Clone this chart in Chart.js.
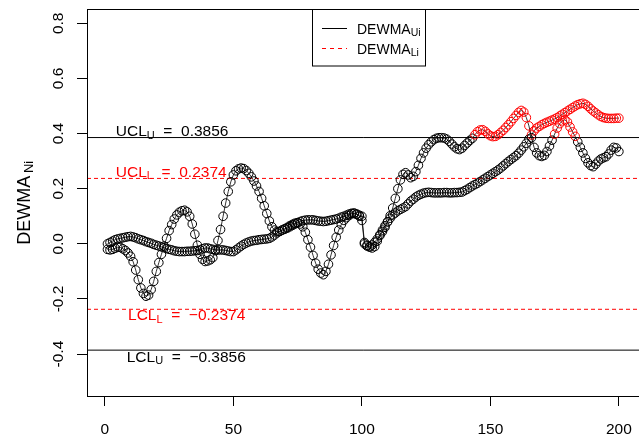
<!DOCTYPE html>
<html>
<head>
<meta charset="utf-8">
<script src="https://cdn.jsdelivr.net/npm/chart.js@4.4.1/dist/chart.umd.min.js"></script>
<style>
  html, body { margin: 0; padding: 0; overflow: hidden; background: #fff; }
  #wrap { width: 646px; height: 441px; }
</style>
</head>
<body>
<div id="wrap"><canvas id="dewmaChart" width="646" height="441"></canvas></div>
<script>
// axis ticks
const xTicks = [0, 50, 100, 150, 200];
const yTicks = [-0.4, -0.2, 0, 0.2, 0.4, 0.6, 0.8];
const yTickLabels = ["-0.4", "-0.2", "0.0", "0.2", "0.4", "0.6", "0.8"];

// control limits
const limitNames = ["UCL", "UCL", "LCL", "LCL"];
const limitSubs = ["U", "L", "L", "U"];
const limitValues = [0.3856, 0.2374, -0.2374, -0.3856];
const limitText = ["0.3856", "0.2374", "\u22120.2374", "\u22120.3856"];

// legend
const legendSubs = ["Ui", "Li"];

// DEWMA statistics, samples 1..200
const dewmaU = [
  -0.02, -0.022, -0.02, -0.016, -0.012, -0.013, -0.018, -0.024, -0.033, -0.045,
  -0.065, -0.095, -0.13, -0.16, -0.18, -0.19, -0.186, -0.166, -0.136, -0.1,
  -0.068, -0.038, -0.008, 0.02, 0.048, 0.07, 0.09, 0.105, 0.115, 0.12,
  0.122, 0.116, 0.1, 0.072, 0.035, -0.005, -0.038, -0.056, -0.064, -0.062,
  -0.058, -0.05, -0.025, 0.012, 0.052, 0.1, 0.148, 0.19, 0.225, 0.25,
  0.265, 0.272, 0.275, 0.273, 0.266, 0.256, 0.243, 0.228, 0.21, 0.19,
  0.165, 0.138, 0.11, 0.083, 0.062, 0.05, 0.045, 0.045, 0.05, 0.055,
  0.06, 0.066, 0.071, 0.075, 0.076, 0.072, 0.062, 0.042, 0.015, -0.012,
  -0.042, -0.07, -0.092, -0.106, -0.112, -0.1, -0.074, -0.04, -0.006, 0.024,
  0.05, 0.07, 0.085, 0.095, 0.103, 0.109, 0.112, 0.108, 0.1, 0.085,
  0.0, -0.008, -0.01, -0.004, 0.006, 0.018, 0.03, 0.044, 0.06, 0.08,
  0.102, 0.13, 0.165, 0.2, 0.232, 0.252, 0.258, 0.25, 0.24, 0.245,
  0.262, 0.285, 0.31, 0.33, 0.347, 0.36, 0.37, 0.378, 0.383, 0.385,
  0.385, 0.384, 0.38, 0.372, 0.362, 0.352, 0.345, 0.342, 0.347, 0.357,
  0.366, 0.375, 0.383, 0.396, 0.407, 0.413, 0.414, 0.408, 0.399, 0.392,
  0.389, 0.39, 0.396, 0.404, 0.412, 0.422, 0.432, 0.443, 0.455, 0.466,
  0.477, 0.484, 0.478, 0.458, 0.428, 0.385, 0.35, 0.33, 0.32, 0.317,
  0.321, 0.335, 0.355, 0.376, 0.398, 0.42, 0.436, 0.446, 0.45, 0.442,
  0.424, 0.406, 0.39, 0.37, 0.35, 0.33, 0.31, 0.294, 0.284, 0.28,
  0.289, 0.3, 0.308, 0.312, 0.316, 0.326, 0.34, 0.35, 0.348, 0.335
];
const dewmaL = [
  0.0, 0.005, 0.01, 0.015, 0.018, 0.02, 0.022, 0.024, 0.026, 0.027,
  0.025, 0.022, 0.018, 0.015, 0.012, 0.008, 0.005, 0.002, -0.002, -0.005,
  -0.008, -0.011, -0.014, -0.017, -0.02, -0.022, -0.025, -0.027, -0.028, -0.028,
  -0.028, -0.027, -0.027, -0.026, -0.025, -0.024, -0.022, -0.018, -0.015, -0.015,
  -0.018, -0.02, -0.022, -0.022, -0.022, -0.022, -0.024, -0.026, -0.028, -0.028,
  -0.022, -0.015, -0.008, -0.002, 0.003, 0.007, 0.01, 0.012, 0.013, 0.015,
  0.016, 0.017, 0.018, 0.02, 0.025, 0.032, 0.04, 0.045, 0.05, 0.053,
  0.057, 0.062, 0.067, 0.072, 0.077, 0.081, 0.084, 0.086, 0.087, 0.087,
  0.087, 0.085, 0.083, 0.082, 0.081, 0.082, 0.084, 0.086, 0.088, 0.09,
  0.093, 0.097, 0.1, 0.104, 0.108, 0.111, 0.11, 0.107, 0.104, 0.1,
  0.005, -0.005, -0.012, -0.015, -0.01, 0.01, 0.033, 0.05, 0.066, 0.08,
  0.093, 0.105, 0.112, 0.12, 0.125, 0.13, 0.135, 0.145, 0.155, 0.162,
  0.17, 0.176, 0.18, 0.184, 0.186, 0.187, 0.186, 0.185, 0.185, 0.185,
  0.185, 0.186, 0.186, 0.185, 0.185, 0.186, 0.186, 0.187, 0.188, 0.193,
  0.198, 0.204, 0.21, 0.215, 0.22, 0.226, 0.232, 0.238, 0.244, 0.25,
  0.256, 0.262, 0.268, 0.275, 0.283, 0.291, 0.299, 0.306, 0.313, 0.32,
  0.329, 0.34, 0.352, 0.365, 0.38, 0.395, 0.41, 0.42, 0.426, 0.432,
  0.437, 0.441, 0.445, 0.449, 0.453, 0.458, 0.464, 0.47, 0.476, 0.482,
  0.488, 0.494, 0.5, 0.505, 0.508, 0.51, 0.506, 0.499, 0.49, 0.482,
  0.475, 0.468, 0.462, 0.458, 0.456, 0.455, 0.455, 0.455, 0.456, 0.456
];

const FONT = "'Liberation Sans', Arial, Helvetica, sans-serif";
const RED = "#ff0000";
const X_MIN = -6.96, X_MAX = 207.96;
const Y_MIN = -0.552, Y_MAX = 0.852;

// points above the upper limit are shown in red
const pointColours = vals => vals.map(v => (v > limitValues[0] ? RED : "#000"));
const toPoints = vals => vals.map((v, i) => ({ x: i + 1, y: v }));

const seriesStyle = vals => ({
  data: toPoints(vals),
  borderColor: "#000",
  borderWidth: 0.8,
  pointRadius: 4.3,
  pointBorderWidth: 1,
  pointBackgroundColor: "rgba(0,0,0,0)",
  pointBorderColor: pointColours(vals),
  order: 0
});

const limitDatasets = limitValues.map((v, i) => ({
  data: [{ x: X_MIN, y: v }, { x: X_MAX, y: v }],
  borderColor: limitSubs[i] === "U" ? "#000" : RED,
  borderDash: limitSubs[i] === "U" ? [] : [4, 3],
  borderWidth: 1,
  pointRadius: 0,
  order: 1
}));

// draws "main" + subscript + rest, starting at x (left aligned)
function subText(ctx, x, y, main, sub, rest, size, subSize, drop) {
  ctx.font = size + "px " + FONT;
  ctx.fillText(main, x, y);
  x += ctx.measureText(main).width;
  ctx.font = subSize + "px " + FONT;
  ctx.fillText(sub, x, y + drop);
  x += ctx.measureText(sub).width;
  if (rest) {
    ctx.font = size + "px " + FONT;
    ctx.fillText(rest, x, y);
  }
}

const labelPos = [
  { x: 4.25, dy: -1.5 },
  { x: 4.25, dy: -1.5 },
  { x: 9.0, dy: 11 },
  { x: 8.5, dy: 11.5 }
];

const decorations = {
  id: "decorations",
  afterDatasetsDraw(chart) {
    const { ctx, chartArea: a, scales } = chart;
    const xs = scales.x, ys = scales.y;
    ctx.save();

    // frame
    ctx.strokeStyle = "#000";
    ctx.lineWidth = 1;
    ctx.strokeRect(Math.round(a.left) + 0.5, Math.round(a.top) + 0.5,
      Math.round(a.right - a.left), Math.round(a.bottom - a.top));

    // y tick labels, rotated like R
    ctx.fillStyle = "#000";
    ctx.textAlign = "center";
    ctx.textBaseline = "alphabetic";
    ctx.font = "15.5px " + FONT;
    yTicks.forEach((v, i) => {
      ctx.save();
      ctx.translate(63, ys.getPixelForValue(v));
      ctx.rotate(-Math.PI / 2);
      ctx.fillText(yTickLabels[i], 0, 0);
      ctx.restore();
    });

    // y axis title DEWMA_Ni
    ctx.save();
    ctx.translate(30, (a.top + a.bottom) / 2);
    ctx.rotate(-Math.PI / 2);
    ctx.textAlign = "left";
    ctx.font = "18px " + FONT;
    const w1 = ctx.measureText("DEWMA").width;
    ctx.font = "13px " + FONT;
    const w2 = ctx.measureText("Ni").width + 3;
    subText(ctx, -(w1 + w2) / 2, 0, "DEWMA", "\u2009Ni", "", 18, 13, 3);
    ctx.restore();

    // control limit labels
    ctx.textAlign = "left";
    limitValues.forEach((v, i) => {
      ctx.fillStyle = limitSubs[i] === "U" ? "#000" : RED;
      const px = xs.getPixelForValue(labelPos[i].x);
      const py = ys.getPixelForValue(v) + labelPos[i].dy;
      subText(ctx, px, py, limitNames[i], limitSubs[i], "  =  " + limitText[i], 15.5, 11, 2.5);
    });

    // legend
    ctx.fillStyle = "#fff";
    ctx.fillRect(312.5, 9.5, 113, 56.5);
    ctx.strokeStyle = "#000";
    ctx.lineWidth = 1;
    ctx.strokeRect(312.5, 9.5, 113, 56.5);
    legendSubs.forEach((s, i) => {
      const ly = 28.5 + i * 20;
      ctx.beginPath();
      ctx.strokeStyle = i === 0 ? "#000" : RED;
      ctx.setLineDash(i === 0 ? [] : [4, 4]);
      ctx.moveTo(322, ly);
      ctx.lineTo(347, ly);
      ctx.stroke();
      ctx.setLineDash([]);
      ctx.fillStyle = "#000";
      subText(ctx, 357, ly + 5, "DEWMA", s, "", 14, 10.5, 2);
    });
    ctx.restore();
  }
};

const ctx = document.getElementById("dewmaChart").getContext("2d");
new Chart(ctx, {
  type: "line",
  data: {
    datasets: [seriesStyle(dewmaU), seriesStyle(dewmaL), ...limitDatasets]
  },
  options: {
    responsive: false,
    animation: false,
    layout: { padding: { left: 0, top: 9, right: 3, bottom: 0 } },
    plugins: { legend: { display: false }, tooltip: { enabled: false } },
    scales: {
      x: {
        type: "linear",
        min: X_MIN,
        max: X_MAX,
        afterBuildTicks: s => { s.ticks = xTicks.map(v => ({ value: v })); },
        afterFit: s => { s.height = 45; },
        grid: { drawOnChartArea: false, drawTicks: true, tickLength: 10, tickColor: "#000", lineWidth: 1 },
        border: { display: false },
        ticks: { color: "#000", font: { family: FONT, size: 15.5 }, padding: 14, maxRotation: 0 }
      },
      y: {
        type: "linear",
        min: Y_MIN,
        max: Y_MAX,
        afterBuildTicks: s => { s.ticks = yTicks.map(v => ({ value: v })); },
        afterFit: s => { s.width = 87; },
        grid: { drawOnChartArea: false, drawTicks: true, tickLength: 10, tickColor: "#000", lineWidth: 1 },
        border: { display: false },
        ticks: { display: false }
      }
    }
  },
  plugins: [decorations]
});
</script>
</body>
</html>
